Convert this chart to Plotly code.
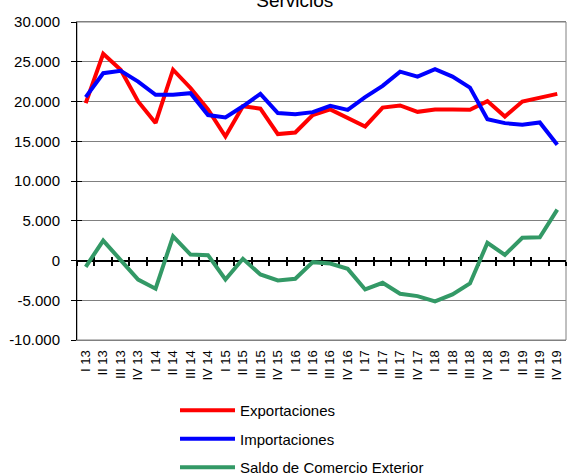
import plotly.graph_objects as go

quarters = ["I", "II", "III", "IV"]
years = ["13", "14", "15", "16", "17", "18", "19"]
categories = [f"{q} {y}" for y in years for q in quarters]

exportaciones = [19800, 26000, 24000, 20000, 17300, 24000, 21700, 19000,
                 15600, 19400, 19100, 15900, 16100, 18300, 19000, 17900,
                 16860, 19240, 19500, 18700, 19000, 19000, 18950, 20050,
                 18100, 20000, 20500, 20960]
importaciones = [20550, 23560, 23850, 22500, 20840, 20840, 21050, 18300,
                 18000, 19400, 20960, 18540, 18400, 18660, 19450, 18950,
                 20550, 21970, 23760, 23130, 24060, 23130, 21750, 17780,
                 17280, 17070, 17360, 14560]
saldo = [-800, 2510, 50, -2400, -3550, 3050, 750, 670,
         -2390, 210, -1760, -2510, -2300, -210, -380, -1050,
         -3640, -2800, -4180, -4480, -5150, -4270, -2890, 2220,
         710, 2850, 2930, 6400]

y_ticks = list(range(-10000, 30001, 5000))
y_ticktext = [f"{v:,}".replace(",", ".") for v in y_ticks]

# each series on its own (overlaid, identical) axis pair so that all
# axes are drawn: x = bottom labels, x2/x3 = crossing ticks on the zero line
series = [
    ("Exportaciones", exportaciones, "#FF0000", "x", "y"),
    ("Importaciones", importaciones, "#0000FF", "x2", "y"),
    ("Saldo de Comercio Exterior", saldo, "#339966", "x3", "y2"),
]

FONT = "Arial, Liberation Sans, sans-serif"
ymin, ymax = y_ticks[0], y_ticks[-1]

fig = go.Figure()
for i, (name, vals, col, xa, ya) in enumerate(series):
    fig.add_trace(go.Scatter(
        x=categories, y=vals, name=name, mode="lines", xaxis=xa, yaxis=ya,
        line=dict(color=col, width=4), legendgroup=f"g{i}",
    ))

n = len(categories)
zero_pos = (0 - ymin) / (ymax - ymin)
cat_common = dict(type="category", categoryorder="array", categoryarray=categories,
                  range=[-0.5, n - 0.5], showgrid=False, zeroline=False)
fig.update_layout(
    width=567, height=473, autosize=False,
    margin=dict(l=77, r=1, t=22, b=133, autoexpand=False),
    paper_bgcolor="white", plot_bgcolor="white",
    font=dict(family=FONT, color="black"),
    title=dict(text="Servicios", font=dict(family=FONT, size=19, color="black"),
               x=0.52, xanchor="center", xref="container",
               y=1 - 7 / 473, yanchor="bottom", yref="container"),
    showlegend=True,
    legend=dict(
        xref="container", yref="container",
        x=175 / 567, xanchor="left", y=1 - 394 / 473, yanchor="top",
        font=dict(family=FONT, size=15, color="black"),
        tracegroupgap=6, itemwidth=55, bgcolor="rgba(0,0,0,0)",
        traceorder="grouped",
    ),
    xaxis=dict(
        **cat_common,
        showline=True, linecolor="#808080", linewidth=1, mirror=True,
        ticks="", tickangle=-90,
        tickfont=dict(family=FONT, size=13, color="black"),
        ticklabelstandoff=4,
    ),
    xaxis2=dict(
        **cat_common, overlaying="x", anchor="free", position=zero_pos,
        showline=True, linecolor="black", linewidth=2, layer="below traces",
        ticks="outside", tickson="boundaries", ticklen=4, tickwidth=2,
        tickcolor="black", showticklabels=False,
    ),
    xaxis3=dict(
        **cat_common, overlaying="x", anchor="free", position=zero_pos,
        showline=False, layer="below traces",
        ticks="inside", tickson="boundaries", ticklen=4, tickwidth=2,
        tickcolor="black", showticklabels=False,
    ),
    yaxis=dict(
        range=[ymin, ymax], tickmode="array", tickvals=y_ticks, ticktext=y_ticktext,
        showgrid=True, gridcolor="#808080", gridwidth=1,
        zeroline=False, showline=True, linecolor="black", linewidth=1,
        ticks="outside", ticklen=5, tickcolor="black",
        tickfont=dict(family=FONT, size=15, color="black"),
        ticklabelstandoff=8,
    ),
    yaxis2=dict(
        overlaying="y", anchor="x", range=[ymin, ymax], tickmode="array",
        tickvals=y_ticks, showgrid=False, zeroline=False, showline=False,
        ticks="inside", ticklen=5, tickcolor="black", showticklabels=False,
    ),
    shapes=[dict(type="rect", xref="paper", yref="paper", x0=0, x1=1, y0=0, y1=1,
                 line=dict(color="#808080", width=1), layer="below")],
)

fig.write_html("out.html")
